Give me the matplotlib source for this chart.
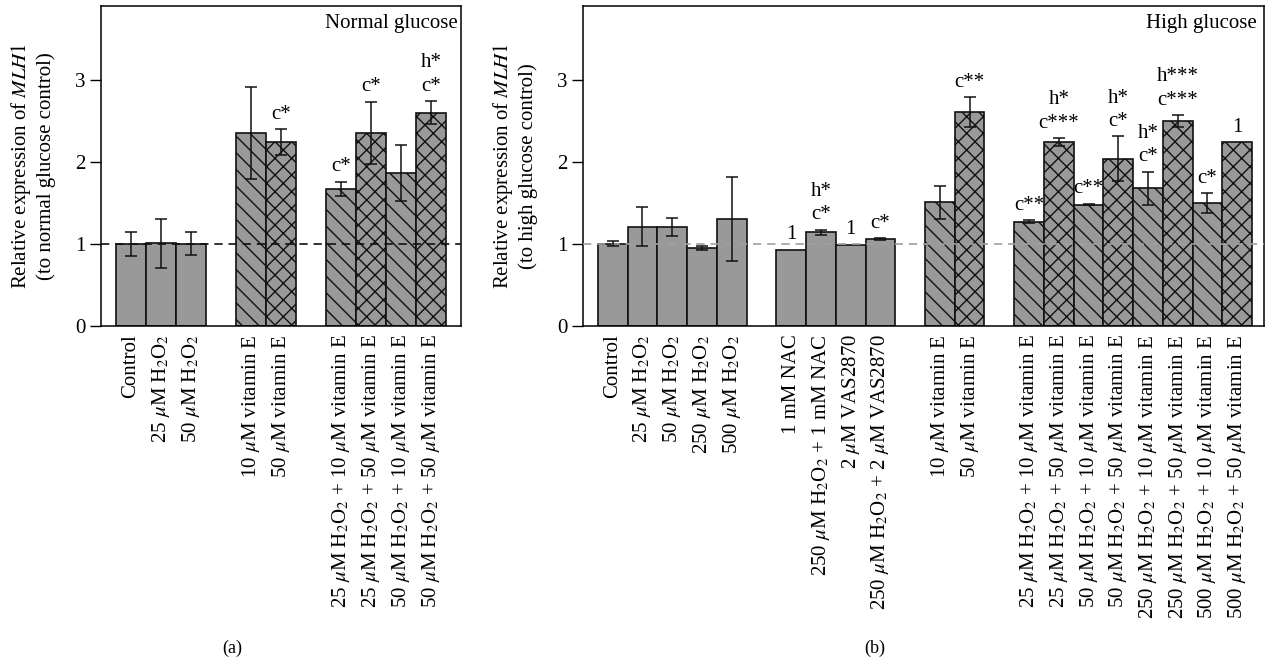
import numpy as np
import matplotlib
matplotlib.use("Agg")
import matplotlib.pyplot as plt

plt.rcParams['font.family'] = 'serif'
plt.rcParams['font.serif'] = ['Liberation Serif', 'DejaVu Serif']
plt.rcParams['mathtext.fontset'] = 'stix'
plt.rcParams['hatch.linewidth'] = 1.0
plt.rcParams['hatch.color'] = '#1a1a1a'

H2O2 = r"$\mu$M H$_2$O$_2$"
VITE = r"$\mu$M vitamin E"

# (a) normal glucose
normal_labels = ["Control", "25 " + H2O2, "50 " + H2O2,
                 "10 " + VITE, "50 " + VITE,
                 "25 " + H2O2 + " + 10 " + VITE, "25 " + H2O2 + " + 50 " + VITE,
                 "50 " + H2O2 + " + 10 " + VITE, "50 " + H2O2 + " + 50 " + VITE]
normal_groups = [3, 2, 4]
normal_vals = [1.00, 1.01, 1.00, 2.35, 2.24, 1.67, 2.35, 1.86, 2.60]
normal_err = [0.15, 0.30, 0.14, 0.56, 0.16, 0.09, 0.38, 0.34, 0.14]
normal_notes = ["", "", "", "", "c*", "c*", "c*", "", "h*\nc*"]

# (b) high glucose
high_labels = ["Control", "25 " + H2O2, "50 " + H2O2, "250 " + H2O2, "500 " + H2O2,
               "1 mM NAC", "250 " + H2O2 + " + 1 mM NAC",
               r"2 $\mu$M VAS2870", "250 " + H2O2 + r" + 2 $\mu$M VAS2870",
               "10 " + VITE, "50 " + VITE,
               "25 " + H2O2 + " + 10 " + VITE, "25 " + H2O2 + " + 50 " + VITE,
               "50 " + H2O2 + " + 10 " + VITE, "50 " + H2O2 + " + 50 " + VITE,
               "250 " + H2O2 + " + 10 " + VITE, "250 " + H2O2 + " + 50 " + VITE,
               "500 " + H2O2 + " + 10 " + VITE, "500 " + H2O2 + " + 50 " + VITE]
high_groups = [5, 4, 2, 8]
high_vals = [1.00, 1.21, 1.21, 0.95, 1.30, 0.93, 1.14, 0.99, 1.06,
             1.51, 2.61, 1.27, 2.24, 1.48, 2.04, 1.68, 2.50, 1.50, 2.24]
high_err = [0.03, 0.24, 0.11, 0.02, 0.51, np.nan, 0.03, np.nan, 0.01,
            0.20, 0.18, 0.02, 0.05, 0.01, 0.27, 0.20, 0.07, 0.12, np.nan]
high_notes = ["", "", "", "", "", "1", "h*\nc*", "1", "c*",
              "", "c**", "c**", "h*\nc***", "c**", "h*\nc*", "h*\nc*", "h***\nc***", "c*", "1"]


def group_positions(groups):
    pos = []
    x = 1
    for n in groups:
        pos.extend(range(x, x + n))
        x += n + 1
    return pos


def hatch_for(label):
    if label.endswith("10 " + VITE):
        return "\\\\"
    if label.endswith("50 " + VITE):
        return "xx"
    return ""


def draw_panel(ax, labels, groups, vals, err, notes, xmax, dash_color, title, ylabel):
    pos = group_positions(groups)
    for x, v, lab in zip(pos, vals, labels):
        ax.bar(x, v, width=1.0, color='#999999', edgecolor='#111111',
               linewidth=1.2, hatch=hatch_for(lab), zorder=2)
    for x, v, e in zip(pos, vals, err):
        if not np.isnan(e):
            ax.errorbar(x, v, yerr=e, fmt='none', ecolor='#111111',
                        elinewidth=1.1, capsize=4, capthick=1.1, zorder=4)
    for x, v, e, n in zip(pos, vals, err, notes):
        if n:
            top = v + (0 if np.isnan(e) else e)
            ax.annotate(n, xy=(x, top), xytext=(0, 4), textcoords='offset points',
                        ha='center', va='bottom', fontsize=15, linespacing=1.3)
    ax.axhline(1.0, color=dash_color, linestyle=(0, (5, 3.5)), linewidth=1.2, zorder=3)
    ax.set_xlim(0, xmax)
    ax.set_ylim(0, 3.9)
    ax.set_yticks([0, 1, 2, 3])
    ax.tick_params(axis='y', length=8, width=1.0, labelsize=15, pad=3)
    ax.tick_params(axis='x', length=0, pad=6)
    ax.set_xticks(pos)
    ax.set_xticklabels(labels, rotation=90, fontsize=15, va='top', ha='center')
    ax.set_ylabel(ylabel, fontsize=15, labelpad=14)
    for s in ax.spines.values():
        s.set_linewidth(1.1)
    ax.text(0.99, 0.975, title, transform=ax.transAxes, ha='right', va='top', fontsize=15)


fig = plt.figure(figsize=(12.68, 6.61), dpi=100)
ax1 = fig.add_axes([101 / 1268, 1 - 326 / 661, 360 / 1268, 320 / 661])
ax2 = fig.add_axes([583 / 1268, 1 - 326 / 661, 681 / 1268, 320 / 661])

draw_panel(ax1, normal_labels, normal_groups, normal_vals, normal_err, normal_notes,
           12, '#111111', "Normal glucose",
           "Relative expression of $\\mathit{MLH1}$\n(to normal glucose control)")
draw_panel(ax2, high_labels, high_groups, high_vals, high_err, high_notes,
           22.9, '#a0a0a0', "High glucose",
           "Relative expression of $\\mathit{MLH1}$\n(to high glucose control)")

fig.text(232 / 1268, 1 - 648 / 661, "(a)", ha='center', va='center', fontsize=13)
fig.text(875 / 1268, 1 - 648 / 661, "(b)", ha='center', va='center', fontsize=13)

fig.savefig("out.png", dpi=100)
